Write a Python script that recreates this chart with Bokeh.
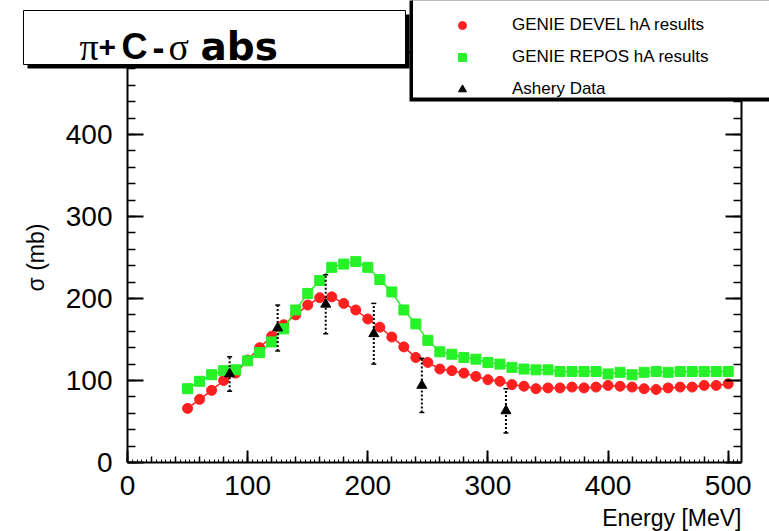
import math
from bokeh.plotting import figure
from bokeh.models import (Range1d, LinearAxis, Label, BoxAnnotation, Legend, LegendItem,
                          SingleIntervalTicker)
from bokeh.embed import file_html
from bokeh.resources import INLINE

# ---------------- data ----------------
energy = [50, 60, 70, 80, 90, 100, 110, 120, 130, 140, 150, 160, 170, 180, 190,
          200, 210, 220, 230, 240, 250, 260, 270, 280, 290, 300, 310, 320, 330, 340,
          350, 360, 370, 380, 390, 400, 410, 420, 430, 440, 450, 460, 470, 480, 490, 500]
sigma_devel = [66, 77, 88, 100, 109, 125, 140, 154, 168, 180, 192, 201, 202, 194, 186,
               175, 165, 153, 141, 128, 122, 114, 112, 109, 105, 101, 99, 95, 93, 90,
               91, 91, 92, 91, 92, 94, 93, 92, 90, 89, 91, 92, 92, 94, 94, 96]
sigma_repos = [90, 99, 107, 112, 113, 124, 134, 147, 163, 186, 206, 222, 238, 242, 245,
               238, 223, 208, 186, 169, 149, 135, 132, 128, 126, 122, 120, 116, 114, 113,
               113, 111, 111, 111, 111, 108, 110, 107, 110, 111, 110, 111, 111, 111, 111, 111]
ashery_energy = [85, 125, 165, 205, 245, 315]
ashery_sigma = [108, 164, 193, 157, 94, 63]
ashery_err = [21, 28, 36, 37, 33, 27]

labels = ["GENIE DEVEL hA results", "GENIE REPOS hA results", "Ashery Data"]
title_parts = ["\u03c0", "+", "C", "-", "\u03c3", "abs"]
x_title = "Energy [MeV]"
y_title = "\u03c3 (mb)"

RED = "#ff1f1f"
GREEN = "#27f127"

# ---------------- geometry (canvas pixels) ----------------
W, H = 769, 531
E0_PX, PX_E = 127.0, 600.7 / 500.0     # canvas x of E=0, pixels per MeV
S0_PX, PX_S = 462.0, 410.0 / 500.0     # canvas y of sigma=0, pixels per mb
X_END, Y_END = 511, 500                # frame box of the original plot

p = figure(width=W, height=H,
           x_range=Range1d(-E0_PX / PX_E, (W - E0_PX) / PX_E),
           y_range=Range1d(-(H - S0_PX) / PX_S, S0_PX / PX_S),
           x_axis_type=None, y_axis_type=None,
           output_backend="svg", toolbar_location=None,
           min_border_left=0, min_border_right=0, min_border_top=0, min_border_bottom=0)
p.background_fill_color = "white"
p.border_fill_color = "white"
p.outline_line_color = None
p.grid.visible = False

def cx(x):
    return x

def cy(y):
    return H - y

def make_axis(loc, bounds, tin, mtin, show_labels, standoff=12, interval=100, nminor=5,
              line=True, tw=2):
    ax = LinearAxis(fixed_location=loc, bounds=bounds,
                    ticker=SingleIntervalTicker(interval=interval, num_minor_ticks=nminor))
    ax.axis_line_color = "black" if line else None
    ax.axis_line_width = 2
    ax.major_tick_in = tin
    ax.major_tick_out = 0
    ax.minor_tick_in = mtin
    ax.minor_tick_out = 0
    ax.major_tick_line_color = "black" if tin > 0 else None
    ax.minor_tick_line_color = "black" if mtin > 0 else None
    ax.major_tick_line_width = tw
    ax.minor_tick_line_width = 1.5
    ax.major_label_text_font = "Liberation Sans"
    ax.major_label_text_font_size = "28px"
    ax.major_label_text_color = "black" if show_labels else None
    ax.major_label_standoff = standoff
    return ax

# fine third-level ticks along the energy axis
p.add_layout(make_axis(0, (0, X_END), 3, 0, False, interval=4, nminor=0, line=False, tw=1), "below")
p.add_layout(make_axis(0, (0, X_END), 12, 6, True, 13), "below")
p.add_layout(make_axis(0, (0, Y_END), 16, 8, True, 15), "left")
p.add_layout(make_axis(X_END, (0, Y_END), 16, 8, False), "right")
p.add_layout(make_axis(Y_END, (0, X_END), 0, 0, False), "above")

# ---------------- data renderers ----------------
p.line(energy, sigma_devel, line_color=RED, line_width=1.5)
r_devel = p.scatter(energy, sigma_devel, marker="circle", size=10, fill_color=RED, line_color=RED)
p.line(energy, sigma_repos, line_color=GREEN, line_width=1.5)
r_repos = p.scatter(energy, sigma_repos, marker="square", size=10, fill_color=GREEN, line_color=GREEN)

lo = [s - e for s, e in zip(ashery_sigma, ashery_err)]
hi = [s + e for s, e in zip(ashery_sigma, ashery_err)]
p.segment(ashery_energy, lo, ashery_energy, hi, line_color="black", line_width=2, line_dash="2 2")
p.scatter(ashery_energy, lo, marker="dash", size=5, line_color="black", line_width=1.5)
p.scatter(ashery_energy, hi, marker="dash", size=5, line_color="black", line_width=1.5)
r_ash = p.scatter(ashery_energy, ashery_sigma, marker="triangle", size=10,
                  fill_color="black", line_color="black")

# ---------------- axis titles ----------------
p.add_layout(Label(x=cx(35), y=cy(257), x_units="screen", y_units="screen", text=y_title,
                   angle=math.pi / 2, text_align="center", text_baseline="middle",
                   text_font="Liberation Sans", text_font_size="23px", text_color="black"))
p.add_layout(Label(x=cx(741), y=cy(517), x_units="screen", y_units="screen", text=x_title,
                   text_align="right", text_baseline="middle",
                   text_font="Liberation Sans", text_font_size="23px", text_color="black"))

# ---------------- boxes ----------------
def box(l, r, t, b, fill, line=None, lw=1):
    return BoxAnnotation(left=cx(l), right=cx(r), top=cy(t), bottom=cy(b),
                         left_units="screen", right_units="screen",
                         top_units="screen", bottom_units="screen",
                         fill_color=fill, fill_alpha=1, line_color=line, line_width=lw,
                         line_alpha=1)

# title pave with shadow
p.add_layout(box(27, 409, 14, 68, "black"))
p.add_layout(box(23, 405, 10, 64, "white", "black", 1))

title_x = [79, 98, 121, 152, 168, 200]
title_fonts = ["Liberation Serif", "Liberation Sans", "Liberation Sans", "Liberation Sans",
               "Liberation Serif", "DejaVu Sans"]
title_styles = ["normal", "bold", "bold", "bold", "normal", "bold"]
title_sizes = ["38px", "30px", "36px", "36px", "38px", "39px"]
for txt, tx, fnt, sty, fs in zip(title_parts, title_x, title_fonts, title_styles, title_sizes):
    p.add_layout(Label(x=cx(tx), y=cy(46), x_units="screen", y_units="screen", text=txt,
                       text_align="left", text_baseline="middle", text_font=fnt,
                       text_font_style=sty, text_font_size=fs, text_color="black"))

# legend pave with shadow
p.add_layout(box(409, 775, -5, 101, "black"))
p.add_layout(box(412, 775, -5, 97.5, "white", "black", 1))

legend = Legend(items=[LegendItem(label=labels[0], renderers=[r_devel]),
                       LegendItem(label=labels[1], renderers=[r_repos]),
                       LegendItem(label=labels[2], renderers=[r_ash])],
                location=(cx(452), cy(100)), orientation="vertical",
                glyph_width=20, glyph_height=22, label_height=22, label_width=10,
                spacing=10, padding=10, margin=0, label_standoff=40,
                label_text_font="Liberation Sans", label_text_font_size="17px",
                label_text_color="black", border_line_color=None,
                background_fill_alpha=0)
p.add_layout(legend)

open("out.html", "w").write(file_html(p, INLINE))
